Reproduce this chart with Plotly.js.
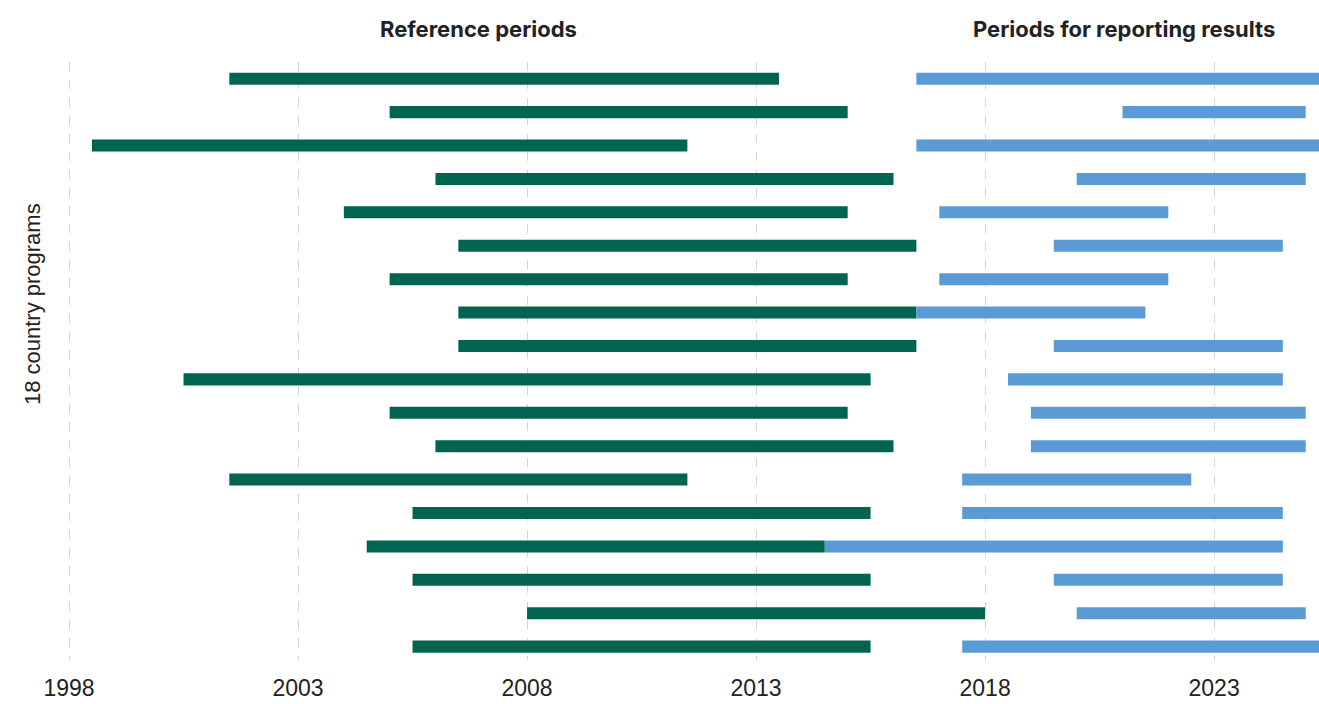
<!DOCTYPE html>
<html>
<head>
<meta charset="utf-8">
<script src="https://cdn.plot.ly/plotly-3.0.1.min.js"></script>
<style>
  body { margin: 0; background: #fff; }
  #chart { width: 1319px; height: 704px; }
</style>
</head>
<body>
<div id="chart"></div>
<script>
// one row per country program, top to bottom
const programs = [1, 2, 3, 4, 5, 6, 7, 8, 9, 10, 11, 12, 13, 14, 15, 16, 17, 18];

// reference periods (years)
const refStart = [2001.5, 2005, 1998.5, 2006, 2004, 2006.5, 2005, 2006.5, 2006.5, 2000.5, 2005, 2006, 2001.5, 2005.5, 2004.5, 2005.5, 2008, 2005.5];
const refEnd   = [2013.5, 2015, 2011.5, 2016, 2015, 2016.5, 2015, 2016.5, 2016.5, 2015.5, 2015, 2016, 2011.5, 2015.5, 2014.5, 2015.5, 2018, 2015.5];

// periods for reporting results (years)
const repStart = [2016.5, 2021, 2016.5, 2020, 2017, 2019.5, 2017, 2016.5, 2019.5, 2018.5, 2019, 2019, 2017.5, 2017.5, 2014.5, 2019.5, 2020, 2017.5];
const repEnd   = [2026.5, 2025, 2026.5, 2025, 2022, 2024.5, 2022, 2021.5, 2024.5, 2024.5, 2025, 2025, 2022.5, 2024.5, 2024.5, 2024.5, 2025, 2027.5];

const tickYears = [1998, 2003, 2008, 2013, 2018, 2023];

const refTrace = {
    type: 'bar',
    orientation: 'h',
    y: programs,
    base: refStart,
    x: refEnd.map((e, i) => e - refStart[i]),
    width: 0.36,
    marker: { color: '#006450', line: { width: 0 } },
    hoverinfo: 'skip'
};

const repTrace = {
    type: 'bar',
    orientation: 'h',
    y: programs,
    base: repStart,
    x: repEnd.map((e, i) => e - repStart[i]),
    width: 0.36,
    marker: { color: '#5b9bd5', line: { width: 0 } },
    hoverinfo: 'skip'
};

const layout = {
    width: 1319,
    height: 704,
    margin: { l: 50, r: 0, t: 62, b: 44 },
    paper_bgcolor: '#ffffff',
    plot_bgcolor: '#ffffff',
    showlegend: false,
    barmode: 'overlay',
    font: { family: 'Liberation Sans, Arial, sans-serif', color: '#222' },
    xaxis: {
        range: [1997.585, 2025.29],
        tickvals: tickYears,
        ticktext: tickYears.map(String),
        tickfont: { size: 23, color: '#222', family: 'Liberation Sans, Arial, sans-serif' },
        showgrid: true,
        gridcolor: '#d4d4d4',
        griddash: 'dash',
        gridwidth: 1,
        zeroline: false,
        showline: false,
        ticks: '',
        ticklabelstandoff: 12
    },
    yaxis: {
        range: [18.4, 0.5],
        showticklabels: false,
        showgrid: false,
        zeroline: false,
        showline: false,
        ticks: ''
    },
    annotations: [
        {
            text: '<b>Reference periods</b>',
            xref: 'x', yref: 'paper',
            x: 2006.93, y: 1.055, yanchor: 'middle',
            showarrow: false,
            font: { size: 22, color: '#222', family: 'Inter, Lato, sans-serif' }
        },
        {
            text: '<b>Periods for reporting results</b>',
            xref: 'x', yref: 'paper',
            x: 2021.03, y: 1.055, yanchor: 'middle',
            showarrow: false,
            font: { size: 22, color: '#222', family: 'Inter, Lato, sans-serif' }
        },
        {
            text: '18 country programs',
            xref: 'paper', yref: 'paper',
            x: -0.0138, y: 0.596, xanchor: 'center', yanchor: 'middle',
            textangle: -90,
            showarrow: false,
            font: { size: 22, color: '#222', family: 'Liberation Sans, Arial, sans-serif' }
        }
    ]
};

Plotly.newPlot('chart', [refTrace, repTrace], layout, { displayModeBar: false, staticPlot: true });
</script>
</body>
</html>
